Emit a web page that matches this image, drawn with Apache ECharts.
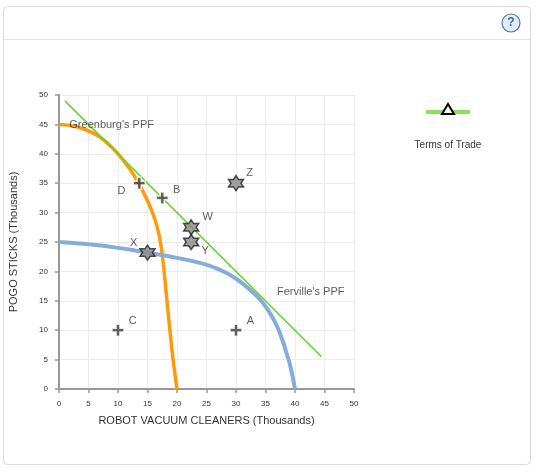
<!DOCTYPE html>
<html>
<head>
<meta charset="utf-8">
<script src="https://cdn.jsdelivr.net/npm/echarts@6/dist/echarts.min.js"></script>
<style>
  html, body { margin: 0; padding: 0; background: #fff; }
  #chart { width: 560px; height: 475px; }
</style>
</head>
<body>
<div id="chart"></div>
<script>
  // Greenburg's PPF (orange)
  const greenburgX = [0, 3, 6, 8, 10, 12, 13.6, 15, 16.2, 17, 17.6, 18.2, 18.8, 19.4, 20];
  const greenburgY = [45, 44.6, 43.4, 42, 40, 37.4, 34.8, 32, 29, 26, 22, 16, 10, 4.5, 0];

  // Ferville's PPF (blue)
  const fervilleX = [0, 5, 10, 15, 20, 24, 27, 29.5, 32, 34, 35.5, 36.8, 37.8, 38.6, 39.3, 40];
  const fervilleY = [25, 24.6, 24, 23.2, 22.3, 21.4, 20.4, 19.1, 17.2, 15.3, 13.3, 11, 8.5, 6, 3.5, 0];

  // terms of trade line end points
  const tradeX = [1, 44.5];
  const tradeY = [49, 5.5];

  // plus markers
  const plusNames = ['D', 'B', 'C', 'A'];
  const plusX = [13.6, 17.5, 10, 30];
  const plusY = [35, 32.5, 10, 10];

  // star markers
  const starNames = ['W', 'Y', 'Z', 'X'];
  const starX = [22.4, 22.4, 30, 15];
  const starY = [27.5, 25, 35, 23.2];

  const chart = echarts.init(document.getElementById('chart'));

  const zip = (xs, ys) => xs.map((x, i) => [x, ys[i]]);
  const plusPath = 'path://M3.4,0H6.6V3.4H10V6.6H6.6V10H3.4V6.6H0V3.4H3.4Z';
  const starPath = 'path://M50,0L64.43,25L93.3,25L78.87,50L93.3,75L64.43,75L50,100L35.57,75L6.7,75L21.13,50L6.7,25L35.57,25Z';
  const textStyle = { color: '#333', fontSize: 11, fontFamily: 'Arial' };

  const labelPos = {
    D: { position: 'left', offset: [-2, 8] },
    B: { position: 'right', offset: [-1, -8] },
    C: { position: 'right', offset: [-1, -9] },
    A: { position: 'right', offset: [-1, -9] },
    W: { position: 'right', offset: [-2, -10] },
    Y: { position: 'right', offset: [-3, 9] },
    Z: { position: 'right', offset: [-3, -10] },
    X: { position: 'left', offset: [3, -10] },
  };

  function pointData(names, xs, ys) {
    return names.map((name, i) => ({
      name,
      value: [xs[i], ys[i]],
      label: Object.assign({ show: true, formatter: name }, textStyle, labelPos[name]),
    }));
  }

  const axisCommon = {
    type: 'value',
    min: 0,
    max: 50,
    interval: 5,
    axisLine: { show: true, lineStyle: { color: '#999', width: 2 } },
    axisTick: { show: true, length: 4, lineStyle: { color: '#999', width: 1.5 } },
    axisLabel: { color: '#333', fontSize: 8, fontFamily: 'Arial', margin: 11 },
    splitLine: { show: true, lineStyle: { color: '#ececec', width: 1 } },
    nameTextStyle: textStyle,
    nameLocation: 'middle',
  };

  chart.setOption({
    animation: false,
    grid: { left: 59, right: 206, top: 95, bottom: 86 },
    xAxis: Object.assign({}, axisCommon, {
      name: 'ROBOT VACUUM CLEANERS (Thousands)',
      nameGap: 26,
    }),
    yAxis: Object.assign({}, axisCommon, {
      name: 'POGO STICKS (Thousands)',
      nameGap: 40,
    }),
    graphic: [
      {
        type: 'rect',
        shape: { x: 3.5, y: 6.5, width: 527, height: 458, r: 4 },
        style: { fill: 'none', stroke: '#d9d9d9', lineWidth: 1 },
        z: -10,
      },
      {
        type: 'line',
        shape: { x1: 4, y1: 39.5, x2: 530, y2: 39.5 },
        style: { stroke: '#e3e3e3', lineWidth: 1 },
      },
      {
        type: 'circle',
        shape: { cx: 511, cy: 23, r: 9 },
        style: { fill: '#e2ebf6', stroke: '#4a78b0', lineWidth: 1.2 },
      },
      {
        type: 'text',
        x: 511,
        y: 23,
        style: { text: '?', fill: '#3d6aa3', font: 'bold 12px Arial', align: 'center', verticalAlign: 'middle' },
      },
      // legend: Terms of Trade
      {
        type: 'line',
        shape: { x1: 426, y1: 112, x2: 470, y2: 112 },
        style: { stroke: '#8ede5e', lineWidth: 4 },
      },
      {
        type: 'polygon',
        shape: { points: [[448, 104], [454, 114], [442, 114]] },
        style: { fill: '#fff', stroke: '#000', lineWidth: 2 },
      },
      {
        type: 'text',
        x: 448,
        y: 145,
        style: { text: 'Terms of Trade', fill: '#333', font: '10px Arial', align: 'center', verticalAlign: 'middle' },
      },
    ],
    series: [
      {
        name: "Greenburg's PPF",
        type: 'line',
        smooth: 0.5,
        showSymbol: false,
        data: zip(greenburgX, greenburgY),
        lineStyle: { color: '#ff9a0a', width: 3.5 },
        z: 2,
      },
      {
        name: "Ferville's PPF",
        type: 'line',
        smooth: 0.5,
        showSymbol: false,
        data: zip(fervilleX, fervilleY),
        lineStyle: { color: '#86add6', width: 4 },
        z: 2,
      },
      {
        name: 'Terms of Trade',
        type: 'line',
        showSymbol: false,
        data: zip(tradeX, tradeY),
        lineStyle: { color: '#5fd625', width: 1.5 },
        z: 3,
      },
      {
        name: 'labels',
        type: 'scatter',
        symbolSize: 0,
        data: [
          { value: [0.9, 44.9], label: Object.assign({ show: true, formatter: "Greenburg's PPF", position: 'right' }, textStyle) },
          { value: [36.1, 16.5], label: Object.assign({ show: true, formatter: "Ferville's PPF", position: 'right' }, textStyle) },
        ],
        z: 4,
      },
      {
        name: 'plus',
        type: 'scatter',
        symbol: plusPath,
        symbolSize: 12,
        itemStyle: { color: '#3a3a3a', borderColor: '#fff', borderWidth: 1.5 },
        data: pointData(plusNames, plusX, plusY),
        z: 5,
      },
      {
        name: 'stars',
        type: 'scatter',
        symbol: starPath,
        symbolSize: 15,
        itemStyle: { color: '#888', borderColor: '#222', borderWidth: 1.5 },
        data: pointData(starNames, starX, starY),
        z: 5,
      },
    ],
  });
</script>
</body>
</html>
